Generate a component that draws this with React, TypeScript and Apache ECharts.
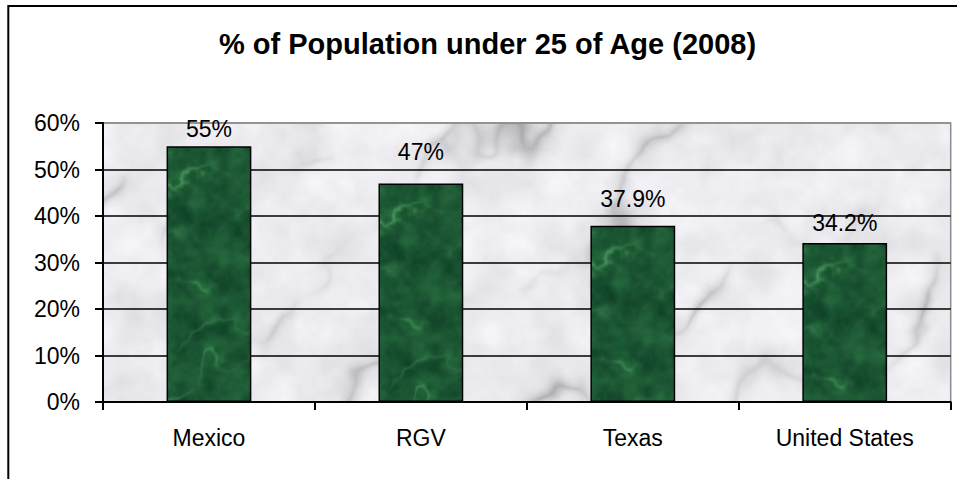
import React, { useEffect, useRef } from "react";
import * as echarts from "echarts";

const categories = ["Mexico", "RGV", "Texas", "United States"];
const values = [55, 47, 37.9, 34.2];
const valueLabels = ["55%", "47%", "37.9%", "34.2%"];
const yMin = 0;
const yMax = 60;
const yInterval = 10;
const titleText = "% of Population under 25 of Age (2008)";
const labelGaps = [6, 20, 15, 8];

const W = 957;
const H = 479;
const FONT = '"Liberation Sans", Arial, sans-serif';

function hash2(ix: number, iy: number, seed: number) {
  let h = Math.imul(ix, 374761393) ^ Math.imul(iy, 668265263) ^ Math.imul(seed, 982451653);
  h = Math.imul(h ^ (h >>> 13), 1274126177);
  h ^= h >>> 16;
  return (h >>> 0) / 4294967296;
}
function vnoise(x: number, y: number, seed: number) {
  const ix = Math.floor(x), iy = Math.floor(y);
  const fx = x - ix, fy = y - iy;
  const sx = fx * fx * (3 - 2 * fx), sy = fy * fy * (3 - 2 * fy);
  const a = hash2(ix, iy, seed), b = hash2(ix + 1, iy, seed);
  const c = hash2(ix, iy + 1, seed), d = hash2(ix + 1, iy + 1, seed);
  return a + (b - a) * sx + (c - a) * sy + (a - b - c + d) * sx * sy;
}
function fbm(x: number, y: number, seed: number, oct = 5) {
  let s = 0, amp = 0.5, f = 1, norm = 0;
  for (let i = 0; i < oct; i++) {
    s += amp * vnoise(x * f, y * f, seed + i * 17);
    norm += amp;
    amp *= 0.5;
    f *= 2;
  }
  return s / norm;
}
function clamp(v: number) {
  return v < 0 ? 0 : v > 255 ? 255 : v;
}

function makeTexture(kind: "marble" | "green"): string {
  const cv = document.createElement("canvas");
  cv.width = W;
  cv.height = H;
  const ctx = cv.getContext("2d");
  if (!ctx) return "";
  const img = ctx.createImageData(W, H);
  const d = img.data;
  for (let y = 0; y < H; y++) {
    for (let x = 0; x < W; x++) {
      let r: number, g: number, b: number;
      if (kind === "marble") {
        const n = fbm(x / 110, y / 110, 1, 4);
        const t = (x * 0.6 + y * 0.8) / 38 + n * 5;
        const mod = fbm(x / 90, y / 90, 21, 3);
        const vein = Math.pow(1 - Math.abs(Math.sin(t)), 4) * Math.max(0, mod - 0.35) * 2.2;
        const n2 = fbm(x / 30, y / 30, 7, 4);
        const L = 236 - (n2 - 0.5) * 30 - vein * 60;
        r = L; g = L; b = L + 4;
      } else {
        const n = fbm(x / 40, y / 40, 3, 4);
        const t = (x * 0.4 + y * 0.9) / 14 + n * 6;
        const mod = fbm(x / 35, y / 35, 31, 3);
        const vein = Math.pow(1 - Math.abs(Math.sin(t)), 5) * Math.max(0, mod - 0.3) * 2;
        const dk = fbm(x / 14, y / 14, 11, 4) - 0.5;
        r = 26 + vein * 45 + dk * 30;
        g = 84 + vein * 70 + dk * 55;
        b = 50 + vein * 40 + dk * 30;
      }
      const o = (y * W + x) * 4;
      d[o] = clamp(r);
      d[o + 1] = clamp(g);
      d[o + 2] = clamp(b);
      d[o + 3] = 255;
    }
  }
  ctx.putImageData(img, 0, 0);
  return cv.toDataURL("image/jpeg", 0.85);
}

export default function App() {
  const ref = useRef<HTMLDivElement>(null);
  useEffect(() => {
    if (!ref.current) return;
    const chart = echarts.init(ref.current, null, { renderer: "svg" });
    const marble = makeTexture("marble");
    const green = makeTexture("green");
    const splitColors: string[] = [];
    for (let v = yMin; v <= yMax; v += yInterval) splitColors.push(v === yMax ? "#8c8c8c" : "#000");

    chart.setOption({
      animation: false,
      backgroundColor: "#fff",
      graphic: [
        {
          type: "polyline",
          shape: { points: [[8.3, H + 10], [8.3, 6], [W + 10, 6]] },
          style: { stroke: "#000", lineWidth: 2, fill: "none" },
          silent: true,
        },
        {
          type: "text",
          x: 487.5,
          y: 44,
          style: {
            text: titleText,
            fill: "#000",
            font: `bold 29px ${FONT}`,
            align: "center",
            verticalAlign: "middle",
          },
          silent: true,
        },
      ],
      grid: {
        left: 103,
        top: 123,
        right: 6.3,
        bottom: 77,
        show: true,
        backgroundColor: { image: marble, repeat: "no-repeat" },
        borderColor: "#8c8c8c",
        borderWidth: 1.5,
        containLabel: false,
      },
      xAxis: {
        type: "category",
        data: categories,
        axisLine: { show: true, lineStyle: { color: "#000", width: 2 } },
        axisTick: { show: true, length: 8, lineStyle: { color: "#000", width: 2 } },
        axisLabel: { color: "#000", fontSize: 23, fontFamily: FONT, margin: 24 },
        splitLine: { show: false },
      },
      yAxis: {
        type: "value",
        min: yMin,
        max: yMax,
        interval: yInterval,
        axisLine: { show: true, lineStyle: { color: "#000", width: 2 } },
        axisTick: { show: true, length: 8, lineStyle: { color: "#000", width: 2 } },
        axisLabel: { color: "#000", fontSize: 23, fontFamily: FONT, margin: 23, formatter: "{value}%" },
        splitLine: { show: true, lineStyle: { color: splitColors, width: 1.5 } },
      },
      series: [
        {
          type: "bar",
          barWidth: "40%",
          data: values.map((v, i) => ({
            value: v,
            label: { distance: labelGaps[i] },
          })),
          itemStyle: {
            color: { image: green, repeat: "no-repeat" },
            borderColor: "#000",
            borderWidth: 1.5,
          },
          label: {
            show: true,
            position: "top",
            color: "#000",
            fontSize: 23,
            fontFamily: FONT,
            formatter: (p: any) => valueLabels[p.dataIndex],
          },
        },
      ],
    });
    return () => chart.dispose();
  }, []);
  return (
    <div
      ref={ref}
      style={{ position: "absolute", left: 0, top: 0, width: W, height: H }}
    />
  );
}
